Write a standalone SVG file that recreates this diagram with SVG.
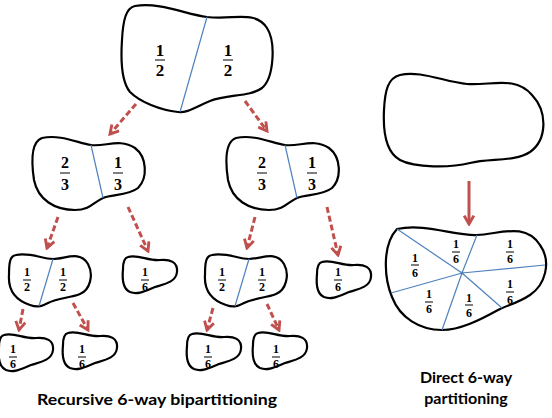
<svg xmlns="http://www.w3.org/2000/svg" xmlns:xlink="http://www.w3.org/1999/xlink" width="552" height="418" viewBox="0 0 552 418">
<style>
.blob{fill:#fff;stroke:#000;stroke-width:2.2;stroke-linejoin:round}
.cut{stroke:#4f81bd;stroke-width:1.2;fill:none}
.arr{stroke:#c0504d;stroke-width:3;stroke-dasharray:6 3;fill:none;marker-end:url(#head)}
.arrs{stroke:#c0504d;stroke-width:3;fill:none;marker-end:url(#head)}
.f{font-family:"Liberation Serif","DejaVu Serif",serif;font-weight:bold;text-anchor:middle;fill:#000}
.f18{font-size:17px}.f16{font-size:16px}.f12{font-size:12px}
.bar{stroke:#000;stroke-width:1}
.lbl{font-family:Lato,"Liberation Sans",sans-serif;font-weight:bold;font-size:16px;fill:#000}
</style>
<defs>
<marker id="head" viewBox="0 0 10 10" refX="8" refY="5" markerWidth="12" markerHeight="12" markerUnits="userSpaceOnUse" orient="auto">
<path d="M1,1 L8,5 L1,9" fill="none" stroke="#c0504d" stroke-width="2.4" stroke-dasharray="none"/>
</marker>
<path id="sb" d="M5,1 C15,-2 25,5 37,4 C47,3 55,6 54,16 C53,26 42,28 32,31 C22,35 15,39 7,36 C0,33 -1,23 0,13 C0,6 1,2 5,1 Z"/>
<path id="mb" d="M9,1 C27,-3 45,6 58,8 C72,10 87,1 102,11 C114,20 115,41 105,51 C95,59 79,57 70,61 C61,65 57,73 42,73 C22,73 5,63 1,43 C-2,23 -2,5 9,1 Z"/>
<path id="lb" d="M8,2 C22,-1 34,6 45,6 C57,6 72,-3 80,11 C86,22 82,37 72,41 C62,45 50,45 40,50 C34,53 30,55 22,52 C7,47 0,37 1,22 C1,9 2,3 8,2 Z"/>
</defs>

<g id="connectors">
<line class="arr" x1="136" y1="104" x2="110" y2="134"/>
<line class="arr" x1="245" y1="101" x2="267" y2="131"/>
<line class="arr" x1="58" y1="217" x2="47" y2="248"/>
<line class="arr" x1="128" y1="207" x2="148" y2="251"/>
<line class="arr" x1="255" y1="217" x2="247" y2="248"/>
<line class="arr" x1="327" y1="207" x2="338" y2="255"/>
<line class="arr" x1="23" y1="309" x2="19" y2="330"/>
<line class="arr" x1="73" y1="303" x2="88" y2="330"/>
<line class="arr" x1="213" y1="308" x2="207" y2="330"/>
<line class="arr" x1="267" y1="304" x2="279" y2="330"/>
<line class="arrs" x1="469" y1="181" x2="469" y2="224"/>
</g>

<g id="root">
<path class="blob" d="M135,6 C160,2 185,14 207,17 C235,20 255,10 267,28 C276,42 274,78 262,88 C250,97 228,94 210,101 C195,107 188,113 178,112 C160,110 140,102 130,92 C120,80 121,55 122,40 C123,20 126,8 135,6 Z"/>
<line class="cut" x1="207" y1="17" x2="180" y2="112"/>
<text class="f f18" x="160" y="56">1</text><line class="bar" x1="155" y1="60" x2="165" y2="60"/><text class="f f18" x="160" y="76">2</text>
<text class="f f18" x="228" y="56">1</text><line class="bar" x1="223" y1="60" x2="233" y2="60"/><text class="f f18" x="228" y="76">2</text>
</g>

<g id="mid-left">
<g transform="translate(33,137)"><use xlink:href="#mb" class="blob"/><line class="cut" x1="58" y1="8" x2="70" y2="61"/></g>
<text class="f f16" x="65" y="168">2</text><line class="bar" x1="60" y1="173" x2="70" y2="173"/><text class="f f16" x="65" y="190">3</text>
<text class="f f16" x="118" y="168">1</text><line class="bar" x1="113" y1="173" x2="123" y2="173"/><text class="f f16" x="118" y="190">3</text>
</g>

<g id="mid-right">
<g transform="translate(227,137)"><use xlink:href="#mb" class="blob"/><line class="cut" x1="58" y1="8" x2="70" y2="61"/></g>
<text class="f f16" x="262" y="168">2</text><line class="bar" x1="257" y1="173" x2="267" y2="173"/><text class="f f16" x="262" y="190">3</text>
<text class="f f16" x="312" y="168">1</text><line class="bar" x1="307" y1="173" x2="317" y2="173"/><text class="f f16" x="312" y="190">3</text>
</g>

<g id="l3-left">
<g transform="translate(8,253)"><use xlink:href="#lb" class="blob"/><line class="cut" x1="45" y1="6" x2="31" y2="53"/></g>
<text class="f f12" x="27" y="276">1</text><line class="bar" x1="23" y1="280" x2="31" y2="280"/><text class="f f12" x="27" y="291">2</text>
<text class="f f12" x="63" y="276">1</text><line class="bar" x1="59" y1="280" x2="67" y2="280"/><text class="f f12" x="63" y="291">2</text>
</g>

<g id="l3-left-sixth">
<use xlink:href="#sb" class="blob" transform="translate(123,256)"/>
<text class="f f12" x="145" y="276">1</text><line class="bar" x1="141" y1="280" x2="149" y2="280"/><text class="f f12" x="145" y="291">6</text>
</g>

<g id="l3-right">
<g transform="translate(204,253)"><use xlink:href="#lb" class="blob"/><line class="cut" x1="45" y1="6" x2="31" y2="53"/></g>
<text class="f f12" x="222" y="276">1</text><line class="bar" x1="218" y1="280" x2="226" y2="280"/><text class="f f12" x="222" y="291">2</text>
<text class="f f12" x="262" y="276">1</text><line class="bar" x1="258" y1="280" x2="266" y2="280"/><text class="f f12" x="262" y="291">2</text>
</g>

<g id="l3-right-sixth">
<use xlink:href="#sb" class="blob" transform="translate(317,261)"/>
<text class="f f12" x="338" y="276">1</text><line class="bar" x1="334" y1="280" x2="342" y2="280"/><text class="f f12" x="338" y="291">6</text>
</g>

<g id="l4-a">
<use xlink:href="#sb" class="blob" transform="translate(-1,334)"/>
<text class="f f12" x="13" y="353">1</text><line class="bar" x1="9" y1="357" x2="17" y2="357"/><text class="f f12" x="13" y="368">6</text>
</g>
<g id="l4-b">
<use xlink:href="#sb" class="blob" transform="translate(63,332)"/>
<text class="f f12" x="82" y="353">1</text><line class="bar" x1="78" y1="357" x2="86" y2="357"/><text class="f f12" x="82" y="368">6</text>
</g>
<g id="l4-c">
<use xlink:href="#sb" class="blob" transform="translate(187,333)"/>
<text class="f f12" x="208" y="353">1</text><line class="bar" x1="204" y1="357" x2="212" y2="357"/><text class="f f12" x="208" y="368">6</text>
</g>
<g id="l4-d">
<use xlink:href="#sb" class="blob" transform="translate(253,332)"/>
<text class="f f12" x="276" y="353">1</text><line class="bar" x1="272" y1="357" x2="280" y2="357"/><text class="f f12" x="276" y="368">6</text>
</g>

<g id="direct-top">
<path class="blob" d="M400,75 C420,70 445,82 467,84 C490,86 515,75 532,95 C548,112 547,140 530,152 C515,162 490,158 470,163 C450,168 415,168 400,160 C385,152 383,130 384,110 C385,90 388,78 400,75 Z"/>
</g>

<g id="direct-bottom">
<path class="blob" d="M397,229 C425,223 455,236 477,235 C500,234 525,222 540,245 C552,262 545,285 530,295 C518,303 508,305 498,310 C480,320 460,330 442,330 C420,330 400,318 392,297 C384,278 382,245 397,229 Z"/>
<g class="cut">
<line x1="462" y1="273" x2="397" y2="229"/>
<line x1="462" y1="273" x2="477" y2="235"/>
<line x1="462" y1="273" x2="545" y2="265"/>
<line x1="462" y1="273" x2="502" y2="308"/>
<line x1="462" y1="273" x2="442" y2="330"/>
<line x1="462" y1="273" x2="391" y2="293"/>
</g>
<circle cx="462" cy="273" r="1.5" fill="#4f81bd"/>
<text class="f f12" x="415" y="262">1</text><line class="bar" x1="411" y1="265" x2="419" y2="265"/><text class="f f12" x="415" y="277">6</text>
<text class="f f12" x="456" y="248">1</text><line class="bar" x1="452" y1="252" x2="460" y2="252"/><text class="f f12" x="456" y="263">6</text>
<text class="f f12" x="510" y="248">1</text><line class="bar" x1="506" y1="252" x2="514" y2="252"/><text class="f f12" x="510" y="263">6</text>
<text class="f f12" x="510" y="288">1</text><line class="bar" x1="506" y1="292" x2="514" y2="292"/><text class="f f12" x="510" y="304">6</text>
<text class="f f12" x="469" y="302">1</text><line class="bar" x1="465" y1="305" x2="473" y2="305"/><text class="f f12" x="469" y="317">6</text>
<text class="f f12" x="429" y="298">1</text><line class="bar" x1="425" y1="302" x2="433" y2="302"/><text class="f f12" x="429" y="313">6</text>
</g>

<text class="lbl" x="37" y="405" textLength="240" lengthAdjust="spacingAndGlyphs">Recursive 6-way bipartitioning</text>
<text class="lbl" x="466" y="383" text-anchor="middle">Direct 6-way</text>
<text class="lbl" x="466" y="404" text-anchor="middle">partitioning</text>
</svg>
